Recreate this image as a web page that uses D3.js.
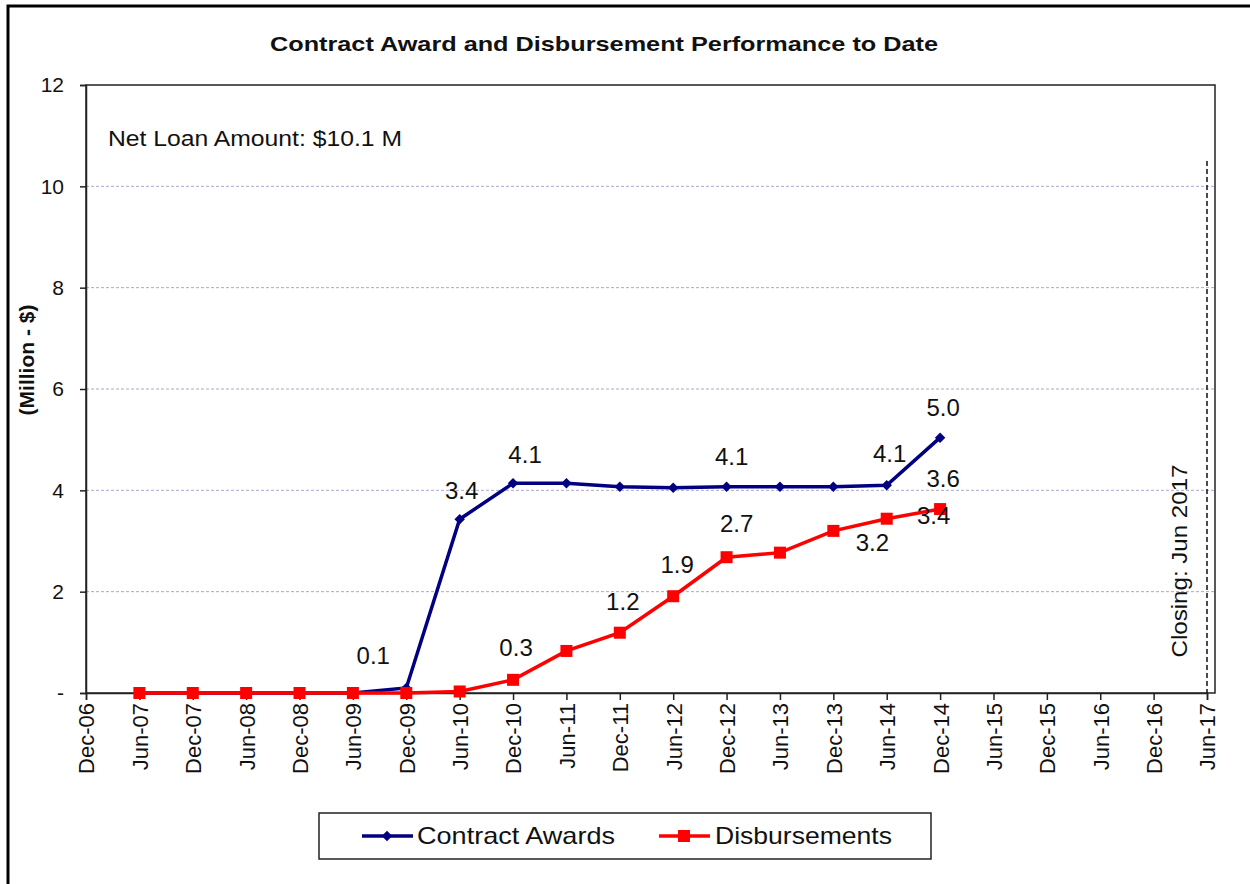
<!DOCTYPE html>
<html>
<head>
<meta charset="utf-8">
<script src="https://cdn.jsdelivr.net/npm/d3@7/dist/d3.min.js"></script>
<style>
  body { margin: 0; background: #fff; }
  svg text { font-family: "Liberation Sans", Arial, sans-serif; fill: #111; }
</style>
</head>
<body>
<svg id="chart" width="1250" height="884"></svg>
<script>
// ---- data ----
const axisLabels = ["Dec-06","Jun-07","Dec-07","Jun-08","Dec-08","Jun-09","Dec-09","Jun-10","Dec-10","Jun-11","Dec-11","Jun-12","Dec-12","Jun-13","Dec-13","Jun-14","Dec-14","Jun-15","Dec-15","Jun-16","Dec-16","Jun-17"];
const periods = ["Jun-07","Dec-07","Jun-08","Dec-08","Jun-09","Dec-09","Jun-10","Dec-10","Jun-11","Dec-11","Jun-12","Dec-12","Jun-13","Dec-13","Jun-14","Dec-14"];
const contractAwards = [0, 0, 0, 0, 0, 0.1, 3.43, 4.14, 4.14, 4.07, 4.05, 4.07, 4.07, 4.07, 4.1, 5.04];
const disbursements = [0, 0, 0, 0, 0, 0, 0.03, 0.26, 0.83, 1.19, 1.91, 2.68, 2.77, 3.2, 3.44, 3.63];
const yTickValues = [0, 2, 4, 6, 8, 10, 12];
const yTickLabels = ["-", "2", "4", "6", "8", "10", "12"];
const contractLabelPeriods = ["Dec-09","Jun-10","Dec-10","Dec-12","Jun-14","Dec-14"];
const disbLabelPeriods = ["Dec-10","Dec-11","Jun-12","Dec-12","Dec-13","Jun-14","Dec-14"];
const closingPeriod = "Jun-17";
const titleText = "Contract Award and Disbursement  Performance  to Date";
const noteText = "Net Loan Amount:  $10.1 M";
const closingText = "Closing:  Jun 2017";
const yTitle = "(Million - $)";
const seriesNames = ["Contract Awards", "Disbursements"];

// ---- layout (label offsets in px, relative to their points) ----
const contractLabelOffsets = [[-33,-32],[2,-29],[12,-29],[5,-30],[3,-32],[3,-30]];
const disbLabelOffsets = [[3,-32],[3,-31],[4,-32],[10,-34],[39,12],[47,-3],[3,-30]];

const svg = d3.select("#chart");
const M = { left: 86, top: 85, right: 1215, bottom: 693 };

const x = d3.scalePoint().domain(axisLabels).range([86, 1207]);
const y = d3.scaleLinear().domain([0, 12]).range([M.bottom, M.top]);

// outer frame
svg.append("rect").attr("x", 8).attr("y", 6).attr("width", 1260).attr("height", 900)
  .attr("fill", "none").attr("stroke", "#000").attr("stroke-width", 3);

// gridlines
svg.append("g").selectAll("line").data(yTickValues.filter(v => v > 0 && v < 12)).join("line")
  .attr("x1", M.left).attr("x2", M.right)
  .attr("y1", d => y(d)).attr("y2", d => y(d))
  .attr("stroke", "#a9a9cc").attr("stroke-width", 1).attr("stroke-dasharray", "3,2");

// plot border
svg.append("rect").attr("x", M.left).attr("y", M.top)
  .attr("width", M.right - M.left).attr("height", M.bottom - M.top)
  .attr("fill", "none").attr("stroke", "#222").attr("stroke-width", 1.5);

// y axis
const yAxis = svg.append("g").attr("transform", `translate(${M.left},0)`)
  .call(d3.axisLeft(y).tickValues(yTickValues).tickSize(6).tickPadding(16)
    .tickFormat((d, i) => yTickLabels[i]));
yAxis.select(".domain").attr("stroke", "#222").attr("stroke-width", 1.5);
yAxis.selectAll(".tick line").attr("stroke", "#222").attr("stroke-width", 1.5);
yAxis.selectAll(".tick text").style("font-size", "21px").attr("fill", "#111");

// x axis
const xAxis = svg.append("g").attr("transform", `translate(0,${M.bottom})`)
  .call(d3.axisBottom(x).tickSize(7).tickFormat(d => d));
xAxis.select(".domain").attr("stroke", "#222").attr("stroke-width", 1.5);
xAxis.selectAll(".tick line").attr("stroke", "#222").attr("stroke-width", 1.5);
xAxis.selectAll(".tick text").style("font-size", "22px").attr("fill", "#111")
  .attr("text-anchor", "end").attr("transform", "rotate(-90)")
  .attr("x", -10).attr("y", 0).attr("dy", "0.36em");

// closing line
svg.append("line").attr("x1", x(closingPeriod)).attr("x2", x(closingPeriod))
  .attr("y1", y(10.5)).attr("y2", M.bottom)
  .attr("stroke", "#111").attr("stroke-width", 1.5).attr("stroke-dasharray", "5,3");
svg.append("text").attr("transform", `translate(1187,561) rotate(-90)`)
  .attr("text-anchor", "middle").style("font-size", "22px")
  .attr("textLength", 193).attr("lengthAdjust", "spacingAndGlyphs").text(closingText);

// series
const line = d3.line().x((d, i) => x(periods[i])).y(d => y(d));
svg.append("path").datum(contractAwards).attr("d", line)
  .attr("fill", "none").attr("stroke", "#000080").attr("stroke-width", 3.5);
svg.append("g").selectAll("path").data(contractAwards).join("path")
  .attr("d", d3.symbol(d3.symbolDiamond2, 70)())
  .attr("transform", (d, i) => `translate(${x(periods[i])},${y(d)})`)
  .attr("fill", "#000080");

svg.append("path").datum(disbursements).attr("d", line)
  .attr("fill", "none").attr("stroke", "#ff0000").attr("stroke-width", 3.5);
svg.append("g").selectAll("rect").data(disbursements).join("rect")
  .attr("x", (d, i) => x(periods[i]) - 6).attr("y", d => y(d) - 6)
  .attr("width", 12).attr("height", 12).attr("fill", "#ff0000");

// data labels
const fmt = d3.format(".1f");
svg.append("g").selectAll("text").data(contractLabelPeriods).join("text")
  .attr("x", (p, k) => x(p) + contractLabelOffsets[k][0])
  .attr("y", (p, k) => y(contractAwards[periods.indexOf(p)]) + contractLabelOffsets[k][1])
  .attr("text-anchor", "middle").attr("dy", "0.35em").style("font-size", "24px")
  .text(p => fmt(contractAwards[periods.indexOf(p)]));
svg.append("g").selectAll("text").data(disbLabelPeriods).join("text")
  .attr("x", (p, k) => x(p) + disbLabelOffsets[k][0])
  .attr("y", (p, k) => y(disbursements[periods.indexOf(p)]) + disbLabelOffsets[k][1])
  .attr("text-anchor", "middle").attr("dy", "0.35em").style("font-size", "24px")
  .text(p => fmt(disbursements[periods.indexOf(p)]));

// title & notes
svg.append("text").attr("x", 604).attr("y", 51).attr("text-anchor", "middle")
  .style("font-size", "21px").style("font-weight", "bold")
  .attr("textLength", 668).attr("lengthAdjust", "spacingAndGlyphs").text(titleText);
svg.append("text").attr("x", 108).attr("y", 146).style("font-size", "22px")
  .attr("textLength", 294).attr("lengthAdjust", "spacingAndGlyphs").text(noteText);
svg.append("text").attr("transform", "translate(34,360) rotate(-90)")
  .attr("text-anchor", "middle").style("font-size", "21px").style("font-weight", "bold")
  .text(yTitle);

// legend
const lg = svg.append("g");
lg.append("rect").attr("x", 319).attr("y", 813).attr("width", 612).attr("height", 46)
  .attr("fill", "#fff").attr("stroke", "#222").attr("stroke-width", 1.5);
const legendItems = [
  { name: seriesNames[0], color: "#000080", x0: 362, tx: 417, tl: 198, marker: "diamond" },
  { name: seriesNames[1], color: "#ff0000", x0: 659, tx: 715, tl: 177, marker: "square" }
];
legendItems.forEach(it => {
  lg.append("line").attr("x1", it.x0).attr("x2", it.x0 + 51).attr("y1", 836).attr("y2", 836)
    .attr("stroke", it.color).attr("stroke-width", 3.5);
  if (it.marker === "diamond") {
    lg.append("path").attr("d", d3.symbol(d3.symbolDiamond2, 70)())
      .attr("transform", `translate(${it.x0 + 25},836)`).attr("fill", it.color);
  } else {
    lg.append("rect").attr("x", it.x0 + 19).attr("y", 830).attr("width", 12).attr("height", 12)
      .attr("fill", it.color);
  }
  lg.append("text").attr("x", it.tx).attr("y", 836).attr("dy", "0.35em")
    .style("font-size", "24px").attr("textLength", it.tl).attr("lengthAdjust", "spacingAndGlyphs")
    .text(it.name);
});
</script>
</body>
</html>
